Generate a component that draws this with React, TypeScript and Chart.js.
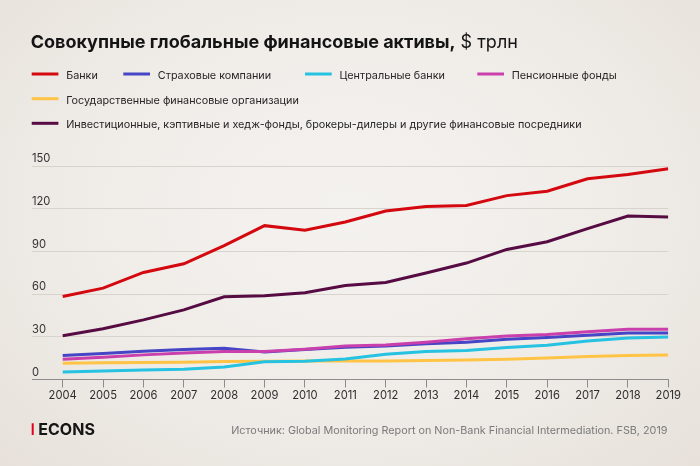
import React, { useEffect, useRef } from "react";
import { Chart, registerables } from "chart.js";

Chart.register(...registerables);

const years = [2004, 2005, 2006, 2007, 2008, 2009, 2010, 2011, 2012, 2013, 2014, 2015, 2016, 2017, 2018, 2019];
const banks = [58.3, 64.2, 75.2, 81.3, 94.0, 108.1, 104.8, 110.7, 118.4, 121.5, 122.2, 129.2, 132.3, 141.0, 144.0, 148.0];
const insurance = [16.8, 18.2, 19.8, 21.0, 22.0, 19.4, 21.0, 22.7, 23.6, 25.2, 26.2, 28.3, 29.5, 31.1, 32.7, 32.7];
const centralBanks = [5.3, 6.0, 6.7, 7.2, 8.8, 12.5, 12.8, 14.4, 17.7, 19.6, 20.3, 22.4, 24.1, 27.1, 29.2, 29.9];
const pension = [14.2, 15.6, 17.3, 18.7, 19.6, 19.6, 21.3, 23.6, 24.3, 26.2, 28.7, 30.6, 31.6, 33.5, 35.3, 35.3];
const government = [11.5, 11.7, 12.0, 12.2, 12.6, 12.9, 13.0, 13.0, 13.0, 13.3, 13.7, 14.2, 15.1, 16.1, 16.8, 17.3];
const investment = [30.8, 35.6, 41.9, 48.9, 58.1, 58.8, 60.9, 66.1, 68.2, 74.8, 81.8, 91.4, 96.8, 106.0, 114.9, 114.2];
const yTicks = [0, 30, 60, 90, 120, 150];

const seriesNames = [
  "Банки",
  "Страховые компании",
  "Центральные банки",
  "Пенсионные фонды",
  "Государственные финансовые организации",
  "Инвестиционные, кэптивные и хедж-фонды, брокеры-дилеры и другие финансовые посредники",
];
const seriesColors = ["#d4080f", "#4545c6", "#25c2e2", "#c93fac", "#ffc445", "#570b43"];
const seriesValues = [banks, insurance, centralBanks, pension, government, investment];

const titleBold = "Совокупные глобальные финансовые активы,";
const titleRegular = " $ трлн";
const brand = "ECONS";
const sourceText = "Источник: Global Monitoring Report on Non-Bank Financial Intermediation. FSB, 2019";

const FONT = 'Inter, "Noto Sans", sans-serif';

// legend layout: [lineX, lineY] per series
const legendPos: [number, number][] = [
  [31.7, 74],
  [123.3, 74],
  [305, 74],
  [477.3, 74],
  [31.7, 98.7],
  [31.7, 123.3],
];

const decorPlugin = {
  id: "decor",
  afterDraw(chart: any) {
    const ctx = chart.ctx as CanvasRenderingContext2D;
    ctx.save();
    ctx.textBaseline = "alphabetic";
    ctx.textAlign = "left";
    // title
    ctx.fillStyle = "#141414";
    ctx.font = `700 18px ${FONT}`;
    ctx.fillText(titleBold, 30.7, 47.7);
    const w = ctx.measureText(titleBold).width;
    ctx.font = `400 18px ${FONT}`;
    ctx.fillText(titleRegular, 30.7 + w, 47.7);
    // legend
    ctx.lineWidth = 3;
    ctx.lineCap = "butt";
    seriesNames.forEach((name, i) => {
      const [lx, ly] = legendPos[i];
      ctx.strokeStyle = seriesColors[i];
      ctx.beginPath();
      ctx.moveTo(lx, ly);
      ctx.lineTo(lx + 26.7, ly);
      ctx.stroke();
      ctx.fillStyle = "#262626";
      ctx.font = `400 10.8px ${FONT}`;
      ctx.fillText(name, lx + 34.5, ly + 4.8);
    });
    // footer
    ctx.fillStyle = "#e3001b";
    ctx.fillRect(31.7, 423.3, 2, 11.7);
    ctx.fillStyle = "#151515";
    ctx.font = `700 16px ${FONT}`;
    ctx.fillText(brand, 38.3, 435);
    ctx.fillStyle = "#7a7a7a";
    ctx.font = `400 10.8px ${FONT}`;
    ctx.textAlign = "right";
    ctx.fillText(sourceText, 667.5, 434);
    ctx.restore();
  },
};

export default function App() {
  const ref = useRef<HTMLCanvasElement | null>(null);

  useEffect(() => {
    if (!ref.current) return;
    const datasets = seriesNames.map((name, i) => ({
      label: name,
      data: years.map((yr, j) => ({ x: yr, y: seriesValues[i][j] })),
      borderColor: seriesColors[i],
      backgroundColor: seriesColors[i],
      borderWidth: 3,
      pointRadius: 0,
      tension: 0,
      fill: false,
      order: [1, 4, 2, 3, 5, 0][i],
    }));
    const chart = new Chart(ref.current, {
      type: "line",
      data: { datasets },
      options: {
        responsive: false,
        animation: false,
        events: [],
        layout: { padding: { left: 32, right: 31.7, top: 166, bottom: 56.5 } },
        plugins: {
          legend: { display: false },
          title: { display: false },
          tooltip: { enabled: false },
        },
        scales: {
          x: {
            type: "linear",
            min: 2004 - 0.76,
            max: 2019,
            afterBuildTicks: (s: any) => {
              s.ticks = years.map((v) => ({ value: v }));
            },
            afterFit: (s: any) => {
              s.height = 30;
            },
            grid: {
              display: true,
              drawOnChartArea: false,
              drawTicks: true,
              tickLength: 8,
              tickColor: "#8c8c8c",
              tickWidth: 1,
            },
            border: { display: true, color: "#8c8c8c", width: 1 },
            ticks: {
              autoSkip: false,
              maxRotation: 0,
              padding: 1,
              color: "#2e2e2e",
              font: { family: FONT, size: 11.2 },
              callback: (v: any) => String(v),
            },
          },
          y: {
            type: "linear",
            min: 0,
            max: 150,
            afterBuildTicks: (s: any) => {
              s.ticks = yTicks.map((v) => ({ value: v }));
            },
            afterFit: (s: any) => {
              s.width = 0;
            },
            grid: {
              color: (c: any) => (c.tick && c.tick.value === 0 ? "rgba(0,0,0,0)" : "#d8d3cd"),
              drawTicks: false,
              lineWidth: 1,
            },
            border: { display: false },
            ticks: {
              mirror: true,
              padding: 0,
              labelOffset: -7,
              color: "#333333",
              font: { family: FONT, size: 11.2 },
              callback: (v: any) => String(v),
            },
          },
        },
      },
      plugins: [decorPlugin],
    });
    return () => chart.destroy();
  }, []);

  return (
    <div
      style={{
        position: "fixed",
        left: 0,
        top: 0,
        width: 700,
        height: 466,
        background:
          "radial-gradient(ellipse at 50% 45%, #f4f2ef 0%, #f0ede9 50%, #e7e1da 100%)",
      }}
    >
      <canvas ref={ref} width={700} height={466} style={{ display: "block" }} />
    </div>
  );
}
